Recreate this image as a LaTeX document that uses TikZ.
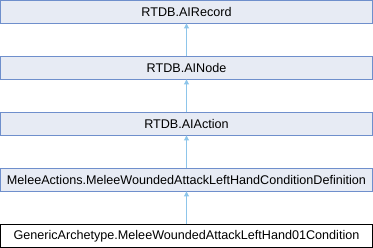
\documentclass[tikz,border=0pt]{standalone}
\usepackage{fontspec}
\setmainfont{Liberation Sans}
\usetikzlibrary{arrows.meta}
\definecolor{boxfill}{HTML}{E7EBF4}
\definecolor{boxline}{HTML}{6F8FCC}
\definecolor{edgeblue}{HTML}{8DC5EA}
\begin{document}
\begin{tikzpicture}[x=1pt,y=-1pt,
  cls/.style={draw=boxline,fill=boxfill,line width=0.9pt,minimum width=372pt,minimum height=22.5pt,inner sep=0pt,font=\fontsize{12.6}{14}\selectfont},
  leaf/.style={cls,draw=black,fill=white},
  inherit/.style={draw=edgeblue,line width=0.9pt,-{Triangle[open,fill=edgeblue,length=5pt,width=5pt]}}]
\useasboundingbox (0,0) rectangle (373,248);
\node[cls]  (rec)  at (186.5,11.75)  {RTDB.AIRecord};
\node[cls]  (node) at (186.5,67.75)  {RTDB.AINode};
\node[cls]  (act)  at (186.5,123.75) {RTDB.AIAction};
\node[cls]  (def)  at (186.5,179.75) {MeleeActions.MeleeWoundedAttackLeftHandConditionDefinition};
\node[leaf] (cond) at (186.5,235.75) {GenericArchetype.MeleeWoundedAttackLeftHand01Condition};
\draw[inherit] (node) -- (rec);
\draw[inherit] (act) -- (node);
\draw[inherit] (def) -- (act);
\draw[inherit] (cond) -- (def);
\end{tikzpicture}
\end{document}
